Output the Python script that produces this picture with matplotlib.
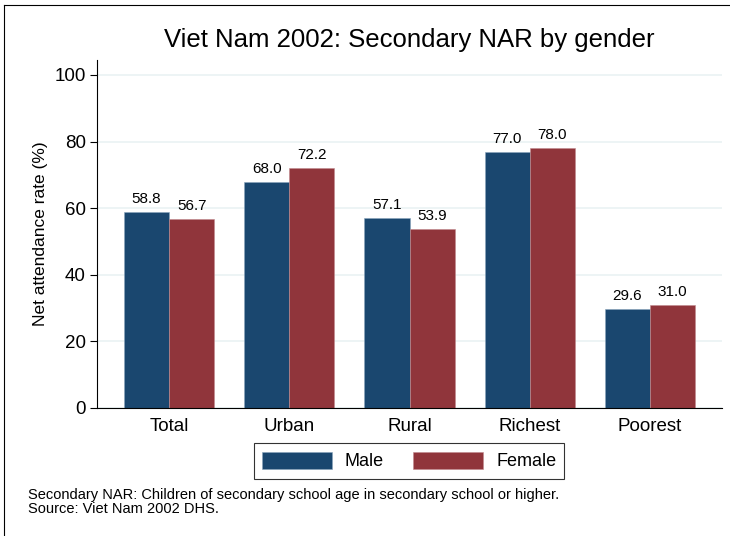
import numpy as np
import matplotlib
matplotlib.use("Agg")
import matplotlib.pyplot as plt

plt.rcParams['font.family'] = ['Liberation Sans', 'DejaVu Sans']

# data
categories = ["Total", "Urban", "Rural", "Richest", "Poorest"]
male = [58.8, 68.0, 57.1, 77.0, 29.6]
female = [56.7, 72.2, 53.9, 78.0, 31.0]
yticks = [0, 20, 40, 60, 80, 100]

male_color = "#1a476f"
female_color = "#90353b"

fig = plt.figure(figsize=(7.3, 5.36), dpi=100)
ax = fig.add_axes([97/730, 1 - 408/536, (722 - 97)/730, (408 - 60)/536])

x = np.arange(len(categories))
w = 0.375
b1 = ax.bar(x - w/2, male, w, color=male_color, edgecolor="#8aa4bd", linewidth=0.4, label="Male")
b2 = ax.bar(x + w/2, female, w, color=female_color, edgecolor="#c08a8e", linewidth=0.4, label="Female")

for bars, vals in [(b1, male), (b2, female)]:
    for r, v in zip(bars, vals):
        ax.text(r.get_x() + r.get_width()/2, v + 1.8, "%.1f" % v,
                ha="center", va="bottom", fontsize=11)

ax.set_xlim(-0.6, 4.6)
ax.set_ylim(0, 104.5)
ax.set_yticks(yticks)
ax.set_yticklabels([str(t) for t in yticks], fontsize=13.5)
ax.set_xticks(x)
ax.set_xticklabels(categories, fontsize=13.5)
ax.tick_params(axis="x", length=0, pad=7)
ax.tick_params(axis="y", length=5, width=0.8, pad=3)
ax.yaxis.grid(True, color="#eaf2f3", linewidth=1.2)
ax.set_axisbelow(True)
for s in ["top", "right"]:
    ax.spines[s].set_visible(False)
ax.spines["left"].set_linewidth(0.8)
ax.spines["bottom"].set_linewidth(0.8)

ax.set_ylabel("Net attendance rate (%)", fontsize=12.5, labelpad=5)
fig.text(409/730, 1 - 40/536, "Viet Nam 2002: Secondary NAR by gender",
         ha="center", va="center", fontsize=18.5)

leg = ax.legend(loc="center", bbox_to_anchor=(409/730, 1 - 461/536),
                bbox_transform=fig.transFigure, ncol=2, fontsize=13,
                frameon=True, fancybox=False, edgecolor="black",
                handlelength=3.9, handleheight=1.1, columnspacing=1.6,
                handletextpad=0.7, borderpad=0.45)
leg.get_frame().set_linewidth(0.8)

fig.text(28/730, 1 - 495/536, "Secondary NAR: Children of secondary school age in secondary school or higher.",
         fontsize=10.5, va="center")
fig.text(28/730, 1 - 509/536, "Source: Viet Nam 2002 DHS.", fontsize=10.5, va="center")

# outer frame (left and top edges visible)
fig.add_artist(plt.Line2D([4/730, 4/730], [0, 1 - 5/536], color="black", linewidth=0.8))
fig.add_artist(plt.Line2D([4/730, 1], [1 - 5/536, 1 - 5/536], color="black", linewidth=0.8))

fig.savefig("out.png", dpi=100)
